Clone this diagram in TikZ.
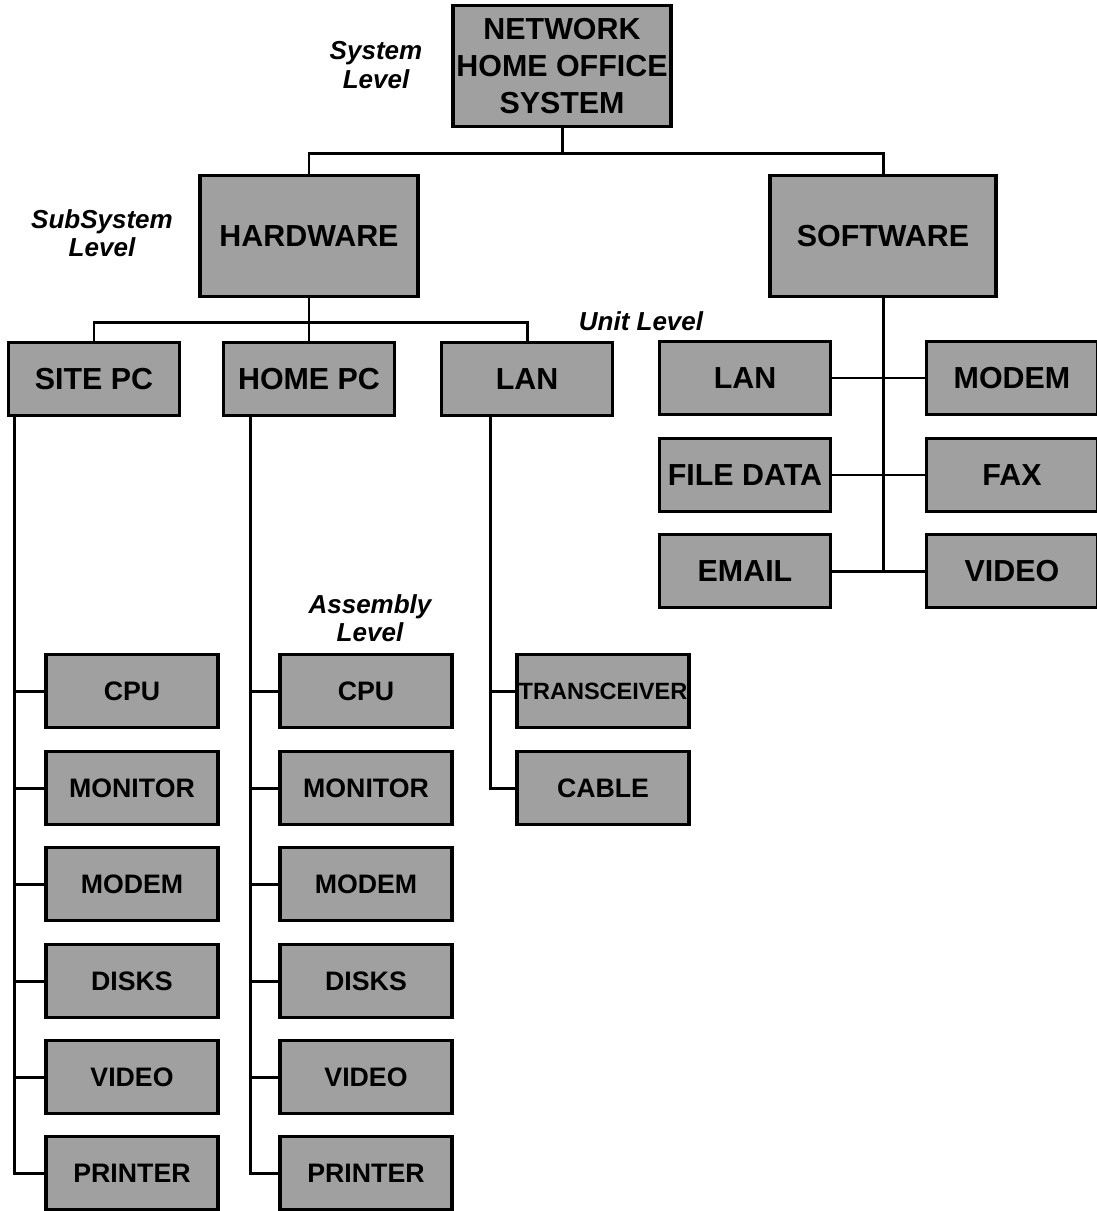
\documentclass[tikz,border=0pt]{standalone}
\usepackage{fontspec}
\setsansfont{Liberation Sans}
\usepackage{xcolor}
\usepackage{tikz}
\usetikzlibrary{positioning}
\definecolor{shade}{HTML}{A0A0A0}
\tikzset{
  every node/.style={font=\sffamily},
  box/.style={draw=black,line width=1.9pt,fill=shade,align=center,inner sep=0pt,
              font=\sffamily\bfseries\fontsize{17.3}{21}\selectfont},
  topbox/.style={box,minimum width=43.6mm,minimum height=24.2mm},
  unitbox/.style={box,minimum width=34.2mm,minimum height=14.6mm},
  partbox/.style={box,minimum width=34.4mm,minimum height=14.6mm,
              font=\sffamily\bfseries\fontsize{15.2}{17}\selectfont},
  squeeze/.style={font=\sffamily\bfseries\fontsize{13.4}{15}\selectfont},
  tie/.style={draw=black,line width=1.7pt},
  lvl/.style={font=\sffamily\bfseries\itshape\fontsize{14.8}{16}\selectfont,
              align=center,inner sep=0pt},
}

\begin{document}
\begin{tikzpicture}[x=0.2mm,y=-0.2mm]
\useasboundingbox (0,0) rectangle (1097,1211);

% ---- system level ----
\node[topbox] (net) at (562,66) {NETWORK\\HOME OFFICE\\SYSTEM};
\node[lvl] (lsys) at (376,65) {System\\Level};

% ---- subsystem level ----
\node[topbox] (hw) at (309,236) {HARDWARE};
\node[topbox,minimum width=45.2mm] (sw) at (883,236) {SOFTWARE};
\node[lvl] (lsub) at (102,233) {SubSystem\\Level};

\draw[tie] (net.south) -- ++(0,25) coordinate (topbus);
\draw[tie] (hw.north) |- (topbus) -| (sw.north);

% ---- unit level, hardware ----
\node[unitbox] (sitepc) at (94,379)  {SITE PC};
\node[unitbox] (homepc) at (309,379) {HOME PC};
\node[unitbox] (lanhw)  at (527,379) {LAN};
\node[lvl] (lunit) at (641,321) {Unit Level};

\draw[tie] (hw.south) -- ++(0,24) coordinate (hwbus);
\draw[tie] (sitepc.north) |- (hwbus) -| (lanhw.north);
\draw[tie] (hwbus) -- (homepc.north);

% ---- unit level, software ----
\node[unitbox] (lansw)   at (745,378)  {LAN};
\node[unitbox] (modemsw) at (1012,378) {MODEM};
\node[unitbox] (filesw)  at (745,475)  {FILE DATA};
\node[unitbox] (faxsw)   at (1012,475) {FAX};
\node[unitbox] (emailsw) at (745,571)  {EMAIL};
\node[unitbox] (videosw) at (1012,571) {VIDEO};

\draw[tie] (sw.south) -- (sw.south |- emailsw.east);
\draw[tie] (lansw.east) -- (modemsw.west);
\draw[tie] (filesw.east) -- (faxsw.west);
\draw[tie] (emailsw.east) -- (videosw.west);

% ---- assembly level, site pc ----
\node[partbox] (sp1) at (132,691)  {CPU};
\node[partbox] (sp2) at (132,788)  {MONITOR};
\node[partbox] (sp3) at (132,884)  {MODEM};
\node[partbox] (sp4) at (132,981)  {DISKS};
\node[partbox] (sp5) at (132,1077) {VIDEO};
\node[partbox] (sp6) at (132,1173) {PRINTER};

\coordinate (sptrunk) at ([xshift=1.6mm]sitepc.south west);
\draw[tie] (sptrunk) |- (sp6.west);
\draw[tie] (sp1.west) -- (sp1.west -| sptrunk);
\draw[tie] (sp2.west) -- (sp2.west -| sptrunk);
\draw[tie] (sp3.west) -- (sp3.west -| sptrunk);
\draw[tie] (sp4.west) -- (sp4.west -| sptrunk);
\draw[tie] (sp5.west) -- (sp5.west -| sptrunk);

% ---- assembly level, home pc ----
\node[lvl] (lasm) at (370,618) {Assembly\\Level};
\node[partbox] (hp1) at (366,691)  {CPU};
\node[partbox] (hp2) at (366,788)  {MONITOR};
\node[partbox] (hp3) at (366,884)  {MODEM};
\node[partbox] (hp4) at (366,981)  {DISKS};
\node[partbox] (hp5) at (366,1077) {VIDEO};
\node[partbox] (hp6) at (366,1173) {PRINTER};

\coordinate (hptrunk) at ([xshift=5.8mm]homepc.south west);
\draw[tie] (hptrunk) |- (hp6.west);
\draw[tie] (hp1.west) -- (hp1.west -| hptrunk);
\draw[tie] (hp2.west) -- (hp2.west -| hptrunk);
\draw[tie] (hp3.west) -- (hp3.west -| hptrunk);
\draw[tie] (hp4.west) -- (hp4.west -| hptrunk);
\draw[tie] (hp5.west) -- (hp5.west -| hptrunk);

% ---- assembly level, lan ----
\node[partbox,squeeze] (trans) at (603,691) {TRANSCEIVER};
\node[partbox] (cable) at (603,788) {CABLE};

\coordinate (lantrunk) at ([xshift=10.2mm]lanhw.south west);
\draw[tie] (lantrunk) |- (cable.west);
\draw[tie] (trans.west) -- (trans.west -| lantrunk);

\end{tikzpicture}
\end{document}
